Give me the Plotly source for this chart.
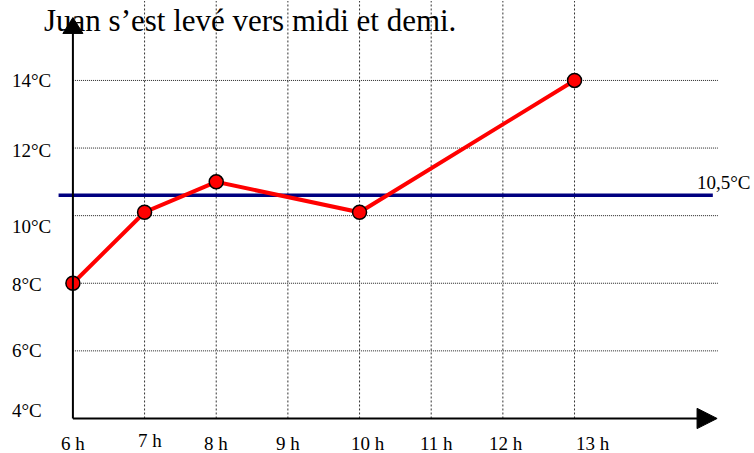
import plotly.graph_objects as go

# ---- data ----
hours = [6, 7, 8, 10, 13]
temps = [8, 10.1, 11, 10.1, 14]
mean_temp = 10.6
mean_label = "10,5°C"
mean_span = [5.8, 14.93]
title_text = "Juan s’est levé vers midi et demi."
x_ticks = [6, 7, 8, 9, 10, 11, 12, 13]
x_tick_labels = ["6 h", "7 h", "8 h", "9 h", "10 h", "11 h", "12 h", "13 h"]
y_ticks = [4, 6, 8, 10, 12, 14]
y_tick_labels = ["4°C", "6°C", "8°C", "10°C", "12°C", "14°C"]

# ---- layout geometry ----
W, H = 754, 453
PX_H = 71.65      # px per hour
PX_C = 33.8       # px per °C
X0_PX, Y0_PX = 73, 418   # pixel of (6 h, 4°C)
xr = [5.75, 15.1]
yr = [3.6, 16.35]
ml = X0_PX - (6 - xr[0]) * PX_H
mr = W - ml - (xr[1] - xr[0]) * PX_H
mt = max(0, Y0_PX - (yr[1] - 4) * PX_C)
mb = H - mt - (yr[1] - yr[0]) * PX_C

FONT = "Liberation Serif"

fig = go.Figure()

# mean line
fig.add_trace(go.Scatter(x=mean_span, y=[mean_temp, mean_temp], mode="lines",
                         line=dict(color="#000080", width=3.5), hoverinfo="skip"))
# temperature curve
fig.add_trace(go.Scatter(x=hours, y=temps, mode="lines+markers",
                         line=dict(color="#ff0000", width=4),
                         marker=dict(size=14, color="#ff0000", line=dict(color="black", width=1.5)),
                         cliponaxis=False))

shapes = []
# vertical grid
for xv in x_ticks[1:]:
    shapes.append(dict(type="line", xref="x", yref="y", x0=xv, x1=xv, y0=4, y1=yr[1],
                       line=dict(color="#333333", width=1, dash="2px,2px"), layer="below"))
# horizontal grid
for yv in y_ticks[1:]:
    shapes.append(dict(type="line", xref="x", yref="y", x0=6, x1=15, y0=yv, y1=yv,
                       line=dict(color="#222222", width=1, dash="1px,1px"), layer="below"))
# axes
shapes.append(dict(type="line", xref="x", yref="y", x0=6, x1=14.75, y0=4, y1=4,
                   line=dict(color="black", width=2)))
shapes.append(dict(type="line", xref="x", yref="y", x0=6, x1=6, y0=4, y1=15.45,
                   line=dict(color="black", width=2)))
# arrow heads
shapes.append(dict(type="path", xref="x", yref="y",
                   path="M14.71,4.3 L14.99,4 L14.71,3.7 Z",
                   fillcolor="black", line=dict(color="black", width=1)))
shapes.append(dict(type="path", xref="x", yref="y",
                   path="M5.86,15.39 L6,15.86 L6.14,15.39 Z",
                   fillcolor="black", line=dict(color="black", width=1)))

annotations = []
x_label_xshift = [0, 5, 0, 0, 8, 5, 3, 18]
x_label_yshift = [-25, -22, -25, -25, -25, -25, -25, -25]
for xv, lab, dx, dy in zip(x_ticks, x_tick_labels, x_label_xshift, x_label_yshift):
    annotations.append(dict(x=xv, y=4, xref="x", yref="y", text=lab, showarrow=False,
                            xanchor="center", yanchor="middle", xshift=dx, yshift=dy,
                            font=dict(family=FONT, size=19, color="black")))
y_label_yshift = [8, 0, -1, -11, -2, 0]
for yv, lab, dy in zip(y_ticks, y_tick_labels, y_label_yshift):
    annotations.append(dict(x=6, y=yv, xref="x", yref="y", text=lab, showarrow=False,
                            xanchor="left", yanchor="middle", xshift=-63, yshift=dy,
                            font=dict(family=FONT, size=19, color="black")))
annotations.append(dict(x=15, y=mean_temp, xref="x", yref="y", text=mean_label, showarrow=False,
                        xanchor="left", yanchor="middle", xshift=-23, yshift=13,
                        font=dict(family=FONT, size=19, color="black")))
annotations.append(dict(x=6, y=1, xref="x", yref="paper", text=title_text, showarrow=False,
                        xanchor="left", yanchor="top", xshift=-31, yshift=0,
                        font=dict(family=FONT, size=31, color="black")))

fig.update_layout(
    width=W, height=H,
    margin=dict(l=ml, r=mr, t=mt, b=mb, pad=0),
    paper_bgcolor="white", plot_bgcolor="white",
    showlegend=False,
    xaxis=dict(range=xr, visible=False, fixedrange=True),
    yaxis=dict(range=yr, visible=False, fixedrange=True),
    shapes=shapes, annotations=annotations,
)

fig.write_html("out.html", config={"displayModeBar": False},
               post_script="document.body.style.margin='0';")
